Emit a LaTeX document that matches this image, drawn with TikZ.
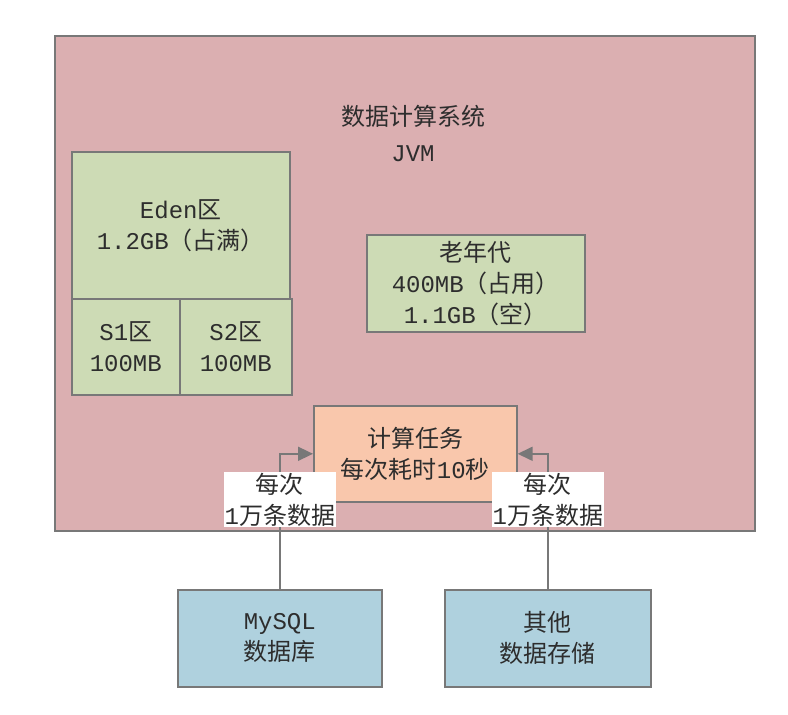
\documentclass[tikz,border=0pt]{standalone}
\usepackage{fontspec}
\setmainfont{Noto Sans CJK SC}
\newfontfamily\latmono{Liberation Mono}
\usetikzlibrary{arrows.meta,positioning}
\definecolor{jvmpink}{RGB}{219,175,177}
\definecolor{genGreen}{RGB}{205,219,181}
\definecolor{taskOrange}{RGB}{249,199,172}
\definecolor{storeBlue}{RGB}{175,209,222}
\definecolor{lineGray}{RGB}{120,120,120}
\definecolor{textGray}{RGB}{45,45,45}
\newcommand{\lm}[1]{{\latmono #1}}

\begin{document}
\begin{tikzpicture}[x=1pt,y=-1pt,
  font=\fontsize{24}{31}\selectfont,
  box/.style={draw=lineGray,line width=1.6pt,align=center,inner sep=0pt,
    text=textGray,anchor=north west},
  flow/.style={-{Triangle[length=15pt,width=14pt]},draw=lineGray,line width=1.6pt},
  lab/.style={fill=white,align=center,inner sep=1pt,text=textGray}]
\useasboundingbox (0,0) rectangle (788,715);
\node[box,fill=jvmpink,minimum width=700,minimum height=495] (jvm) at (54,35) {};
\node[align=center,text=textGray,font=\fontsize{24}{36}\selectfont] (title)
  at (413,133) {数据计算系统\\\lm{JVM}};
% young generation
\node[box,fill=genGreen,minimum width=218,minimum height=147] (eden) at (71,151)
  {\lm{Eden}区\\\lm{1.2GB}（占满）};
\node[box,fill=genGreen,minimum width=108,minimum height=96] (s1) at (71,298)
  {\lm{S1}区\\\lm{100MB}};
\node[box,fill=genGreen,minimum width=112,minimum height=96] (s2) at (179,298)
  {\lm{S2}区\\\lm{100MB}};
% old generation
\node[box,fill=genGreen,minimum width=218,minimum height=97] (old) at (366,234)
  {老年代\\\lm{400MB}（占用）\\\lm{1.1GB}（空）};
\node[box,fill=taskOrange,minimum width=203,minimum height=96] (task) at (313,405)
  {计算任务\\每次耗时\lm{10}秒};
% data sources
\node[box,fill=storeBlue,minimum width=204,minimum height=97] (mysql) at (177,589)
  {\lm{MySQL}\\数据库};
\node[box,fill=storeBlue,minimum width=206,minimum height=97] (other) at (444,589)
  {其他\\数据存储};
\draw[flow] (mysql.north) |- node[lab,pos=.33] {每次\\\lm{1}万条数据} (task.west);
\draw[flow] (other.north) |- node[lab,pos=.33] {每次\\\lm{1}万条数据} (task.east);
\end{tikzpicture}
\end{document}
